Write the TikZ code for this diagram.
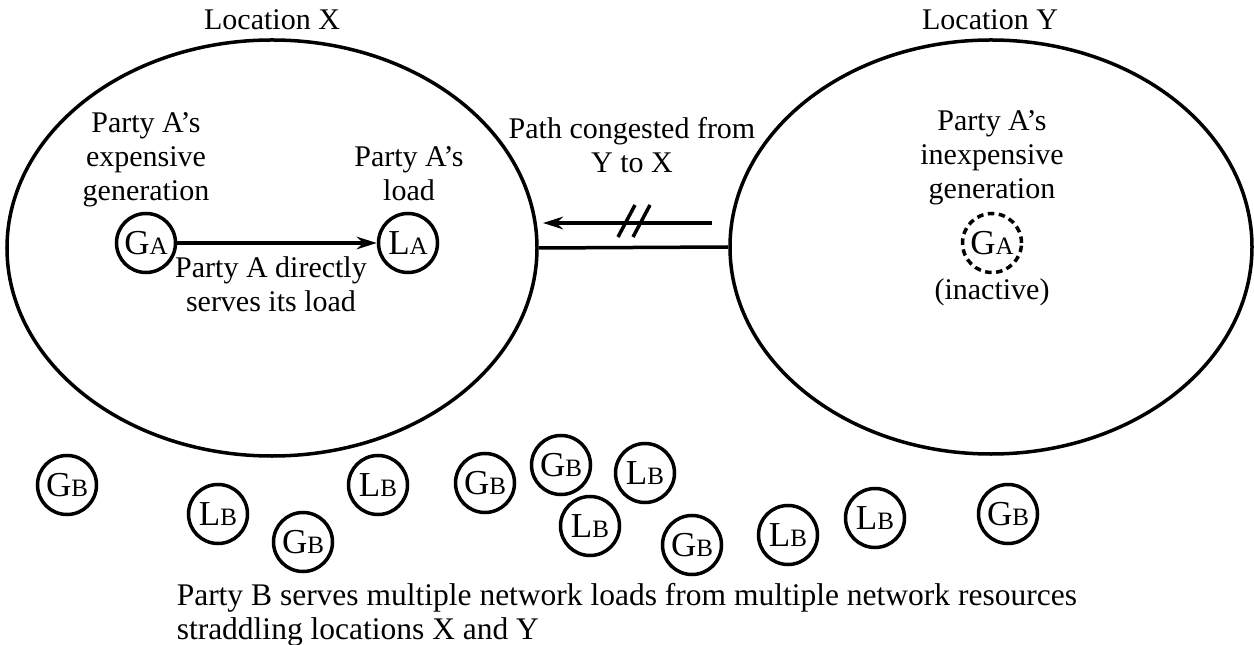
\documentclass[tikz,border=0pt]{standalone}
\usepackage{fontspec}
\setmainfont{Liberation Serif}
\usetikzlibrary{shapes.geometric,arrows.meta}
\newcommand\reslbl[2]{{\rmfamily\fontsize{14}{14}\selectfont #1{\fontsize{10}{10}\selectfont #2}}}
\begin{document}
\begin{tikzpicture}[x=0.4pt,y=-0.4pt, line width=1.4pt,
  txt/.style={font=\rmfamily\fontsize{12}{13.6}\selectfont, align=center, inner sep=0},
  region/.style={draw, ellipse, inner sep=0},
  res/.style={draw, circle, minimum size=23.6pt, inner sep=0},
  inactive/.style={res, dash pattern=on 2.6pt off 1.8pt},
  arr/.style={-{Stealth[length=8pt,width=5pt]}}]
\useasboundingbox (0,0) rectangle (1254,645);
% regions
\node[region, minimum width=212pt, minimum height=166.4pt] (X) at (272,248) {};
\node[region, minimum width=208.8pt, minimum height=165.6pt] (Y) at (991,247) {};
\node[txt] (lx) at (272,20) {Location X};
\node[txt] (ly) at (990,20) {Location Y};
% link
\draw (X.east) -- (Y.west);
\coordinate (cs) at (712,223);
\coordinate (ce) at (543,223);
\draw[arr] (cs) -- (ce);
\draw (618,237) -- (635,205);
\draw (633,237) -- (650,205);
\node[txt] (path) at (632,145) {Path congested from\\Y to X};
% party A in X
\node[res] (ga) at (146,243) {\reslbl{G}{A}};
\node[res] (la) at (408,243) {\reslbl{L}{A}};
\draw[arr] (ga) -- (la);
\node[txt] (gat) at (146,160) {Party A’s\\expensive\\generation};
\node[txt] (lat) at (409,174) {Party A’s\\load};
\node[txt] (dir) at (271,284) {Party A directly\\serves its load};
% party A in Y
\node[inactive] (gay) at (992,243) {\reslbl{G}{A}};
\node[txt] (gayt) at (992,158) {Party A’s\\inexpensive\\generation};
\node[txt] (ina) at (992,292) {(inactive)};
% party B resources
\node[res] (b1) at (67,485) {\reslbl{G}{B}};
\node[res] (b2) at (218,514) {\reslbl{L}{B}};
\node[res] (b3) at (303,542) {\reslbl{G}{B}};
\node[res] (b4) at (378,485) {\reslbl{L}{B}};
\node[res] (b5) at (485,483) {\reslbl{G}{B}};
\node[res] (b6) at (561,465) {\reslbl{G}{B}};
\node[res] (b7) at (590,526) {\reslbl{L}{B}};
\node[res] (b8) at (645,473) {\reslbl{L}{B}};
\node[res] (b9) at (692,545) {\reslbl{G}{B}};
\node[res] (b10) at (788,535) {\reslbl{L}{B}};
\node[res] (b11) at (875,518) {\reslbl{L}{B}};
\node[res] (b12) at (1008,514) {\reslbl{G}{B}};
\node[txt, font=\rmfamily\fontsize{12.6}{13.6}\selectfont, align=left, anchor=west] (bt) at (175,615) {Party B serves multiple network loads from multiple network resources\\straddling locations X and Y};
\end{tikzpicture}
\end{document}
